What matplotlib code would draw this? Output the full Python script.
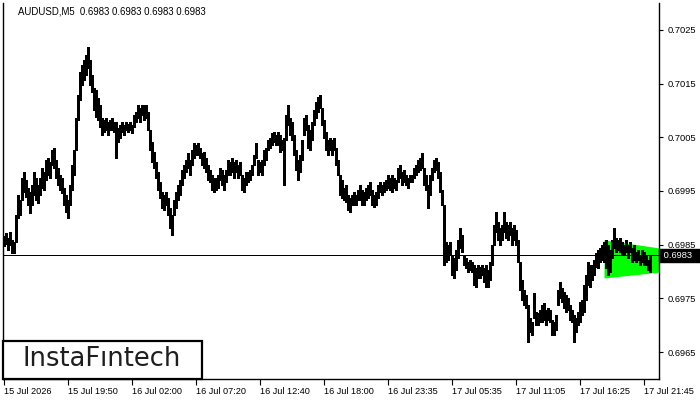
import matplotlib
matplotlib.use('Agg')
import matplotlib.pyplot as plt
from matplotlib.patches import Rectangle
import matplotlib.transforms as mtransforms

# AUDUSD M5 bar highs / lows (price points, 1 point = 0.00001), one entry per bar pair
high_pts = [
    69866, 69872, 69862, 69874, 69859, 69855, 69905, 69943, 69933, 69974,
    69985, 69970, 69956, 69948, 69961, 69985, 69974, 69961, 69974, 69993,
    69985, 70008, 70011, 70004, 70026, 70030, 70008, 69993, 69980, 69974,
    69956, 69943, 69933, 69961, 69998, 70026, 70086, 70129, 70172, 70185,
    70194, 70203, 70218, 70194, 70166, 70142, 70138, 70123, 70110, 70086,
    70082, 70086, 70079, 70082, 70086, 70079, 70079, 70067, 70073, 70079,
    70073, 70079, 70075, 70079, 70073, 70092, 70097, 70110, 70105, 70110,
    70110, 70110, 70097, 70064, 70041, 70023, 70004, 69985, 69967, 69948,
    69943, 69948, 69937, 69918, 69905, 69933, 69948, 69961, 69970, 69989,
    69998, 70008, 70021, 70008, 70026, 70039, 70036, 70039, 70030, 70021,
    70023, 70011, 69998, 69989, 69980, 69974, 69974, 69980, 69993, 69989,
    69980, 69989, 70008, 70004, 70011, 70004, 70008, 69998, 70004, 69980,
    69974, 69985, 69985, 69989, 69998, 70017, 70039, 70008, 70004, 70008,
    70026, 70030, 70045, 70049, 70058, 70060, 70054, 70060, 70054, 70045,
    70049, 70092, 70110, 70086, 70079, 70054, 70026, 70008, 70017, 70045,
    70086, 70092, 70073, 70064, 70079, 70101, 70116, 70125, 70129, 70105,
    70082, 70060, 70045, 70049, 70045, 70049, 70030, 70008, 69980, 69970,
    69956, 69961, 69943, 69937, 69943, 69948, 69943, 69952, 69961, 69952,
    69948, 69956, 69961, 69967, 69952, 69943, 69948, 69961, 69967, 69961,
    69967, 69970, 69980, 69974, 69980, 69974, 69970, 69993, 69998, 69985,
    69989, 69980, 69974, 69980, 69980, 69993, 69998, 70008, 70011, 70021,
    69993, 69980, 69961, 69980, 69993, 70008, 70011, 70004, 69985, 69952,
    69924, 69855, 69849, 69855, 69831, 69825, 69840, 69859, 69881, 69868,
    69831, 69825, 69818, 69821, 69818, 69812, 69806, 69812, 69808, 69812,
    69806, 69812, 69803, 69818, 69849, 69887, 69911, 69892, 69881, 69887,
    69911, 69892, 69887, 69892, 69881, 69887, 69877, 69859, 69818, 69784,
    69766, 69756, 69738, 69713, 69706, 69760, 69725, 69723, 69728, 69738,
    69741, 69728, 69732, 69728, 69710, 69706, 69719, 69766, 69780, 69769,
    69762, 69756, 69751, 69738, 69728, 69719, 69713, 69725, 69743, 69747,
    69775, 69793, 69818, 69812, 69812, 69821, 69834, 69840, 69844, 69849,
    69855, 69859, 69849, 69840, 69859, 69881, 69862, 69859, 69862, 69855,
    69849, 69859, 69849, 69855, 69844, 69849, 69836, 69840, 69831, 69840,
    69836, 69831, 69821, 69831, 69830,
]
low_pts = [
    69848, 69851, 69840, 69849, 69834, 69834, 69855, 69900, 69905, 69933,
    69948, 69939, 69924, 69909, 69924, 69943, 69933, 69928, 69943, 69956,
    69952, 69970, 69980, 69974, 69998, 69993, 69974, 69961, 69952, 69946,
    69924, 69911, 69900, 69924, 69952, 69980, 70026, 70082, 70120, 70148,
    70157, 70166, 70179, 70148, 70134, 70101, 70088, 70082, 70069, 70054,
    70060, 70064, 70054, 70064, 70064, 70060, 70011, 70041, 70049, 70060,
    70054, 70064, 70060, 70064, 70058, 70069, 70079, 70086, 70079, 70092,
    70082, 70086, 70064, 70026, 70004, 69993, 69974, 69952, 69937, 69918,
    69915, 69924, 69905, 69881, 69868, 69905, 69918, 69933, 69943, 69961,
    69974, 69985, 69993, 69980, 69998, 70011, 70017, 70017, 70011, 69998,
    69993, 69985, 69970, 69967, 69952, 69948, 69952, 69956, 69970, 69961,
    69952, 69967, 69980, 69980, 69985, 69974, 69985, 69974, 69980, 69952,
    69948, 69961, 69967, 69970, 69980, 69998, 70011, 69980, 69985, 69980,
    69998, 70008, 70026, 70030, 70036, 70041, 70036, 70036, 70023, 70026,
    69961, 70045, 70073, 70054, 70045, 70017, 69989, 69970, 69985, 70008,
    70054, 70064, 70030, 70026, 70045, 70073, 70086, 70097, 70105, 70073,
    70049, 70026, 70017, 70026, 70017, 70026, 69998, 69980, 69943, 69937,
    69933, 69929, 69915, 69911, 69924, 69924, 69924, 69933, 69933, 69924,
    69924, 69933, 69937, 69943, 69924, 69920, 69924, 69937, 69948, 69943,
    69948, 69952, 69956, 69952, 69948, 69956, 69952, 69967, 69974, 69961,
    69967, 69961, 69956, 69967, 69967, 69974, 69980, 69985, 69989, 69993,
    69961, 69952, 69918, 69943, 69970, 69985, 69989, 69974, 69948, 69924,
    69812, 69818, 69821, 69831, 69793, 69788, 69803, 69825, 69844, 69836,
    69812, 69806, 69799, 69803, 69799, 69775, 69771, 69788, 69788, 69793,
    69780, 69771, 69771, 69784, 69812, 69849, 69874, 69859, 69849, 69859,
    69874, 69862, 69859, 69868, 69849, 69859, 69849, 69818, 69766, 69747,
    69738, 69732, 69669, 69687, 69682, 69713, 69700, 69700, 69706, 69706,
    69710, 69700, 69710, 69706, 69682, 69682, 69691, 69738, 69751, 69743,
    69732, 69725, 69728, 69710, 69706, 69669, 69687, 69700, 69706, 69719,
    69725, 69747, 69775, 69771, 69784, 69793, 69808, 69806, 69818, 69821,
    69818, 69806, 69793, 69799, 69825, 69844, 69836, 69840, 69836, 69831,
    69831, 69836, 69825, 69836, 69818, 69821, 69818, 69821, 69812, 69818,
    69812, 69812, 69803, 69799, 69830,
]

time_labels = ['15 Jul 2026', '15 Jul 19:50', '16 Jul 02:00', '16 Jul 07:20',
               '16 Jul 12:40', '16 Jul 18:00', '16 Jul 23:35', '17 Jul 05:35',
               '17 Jul 11:05', '17 Jul 16:25', '17 Jul 21:45']
time_tick_bars = [0, 32, 64, 96, 128, 160, 192, 224, 256, 288, 320]
price_ticks = [0.6965, 0.6975, 0.6985, 0.6995, 0.7005, 0.7015, 0.7025]
last_price = 0.6983
title_text = 'AUDUSD,M5  0.6983 0.6983 0.6983 0.6983'

# triangle (pennant) pattern
tri_x = [300.0, 327.5]
tri_upper = [0.69859, 0.69844]
tri_lower = [0.69788, 0.69799]

highs = [v / 1e5 for v in high_pts]
lows = [v / 1e5 for v in low_pts]
xs = list(range(len(highs)))

W, H = 700, 400
fig = plt.figure(figsize=(7, 4), dpi=100)
fig.patch.set_facecolor('white')
ax = fig.add_axes([3 / W, 21 / H, 656 / W, 376 / H])
ax.set_facecolor('white')

ax.fill_between(tri_x, tri_lower, tri_upper, color='#00ff00', lw=0, zorder=1)
ax.vlines(xs, lows, highs, color='black', lw=1.0, antialiased=False, zorder=2)
ax.axhline(last_price, color='black', lw=0.6, antialiased=False, zorder=3)

ax.set_xlim(-0.5, 327.5)
ax.set_ylim(0.6960, 0.7030)

ax.yaxis.tick_right()
ax.set_yticks(price_ticks)
ax.set_yticklabels([f'{p:.4f}' for p in price_ticks])
ax.set_xticks(time_tick_bars)
ax.set_xticklabels(time_labels)
for lab in ax.get_xticklabels():
    lab.set_horizontalalignment('left')
ax.tick_params(axis='y', direction='out', length=3, width=0.8, labelsize=6.7,
               pad=3, colors='black')
ax.tick_params(axis='x', direction='out', length=4, width=0.8, labelsize=6.6,
               pad=2, colors='black')
for lab in ax.get_xticklabels() + ax.get_yticklabels():
    lab.set_family('Liberation Sans')

for s in ['left', 'right', 'bottom']:
    ax.spines[s].set_color('black')
    ax.spines[s].set_linewidth(1.0)
ax.spines['top'].set_visible(False)

# last price marker on the price scale
trans = mtransforms.blended_transform_factory(ax.transAxes, ax.transData)
ax.text(1.003, last_price, ' 0.6983   ', transform=trans, ha='left', va='center',
        fontsize=6.7, family='Liberation Sans', color='white', clip_on=False,
        zorder=6, bbox=dict(boxstyle='square,pad=0.2', fc='black', ec='black'))

# title
fig.text(18 / W, 1 - 12 / H, title_text, ha='left', va='center', fontsize=6.9,
         family='Liberation Sans', color='black')

# logo box
ax.add_patch(Rectangle((0, 0), 199 / 656, 38 / 376, transform=ax.transAxes,
                       fc='white', ec='black', lw=1.6, zorder=7, clip_on=False))
ax.text(99 / 656, 20 / 376, 'InstaFıntech', transform=ax.transAxes,
        ha='center', va='center', fontsize=18.5, family='DejaVu Sans',
        color='#1e1e1e', zorder=8)

fig.savefig('out.png', dpi=100, facecolor='white')
